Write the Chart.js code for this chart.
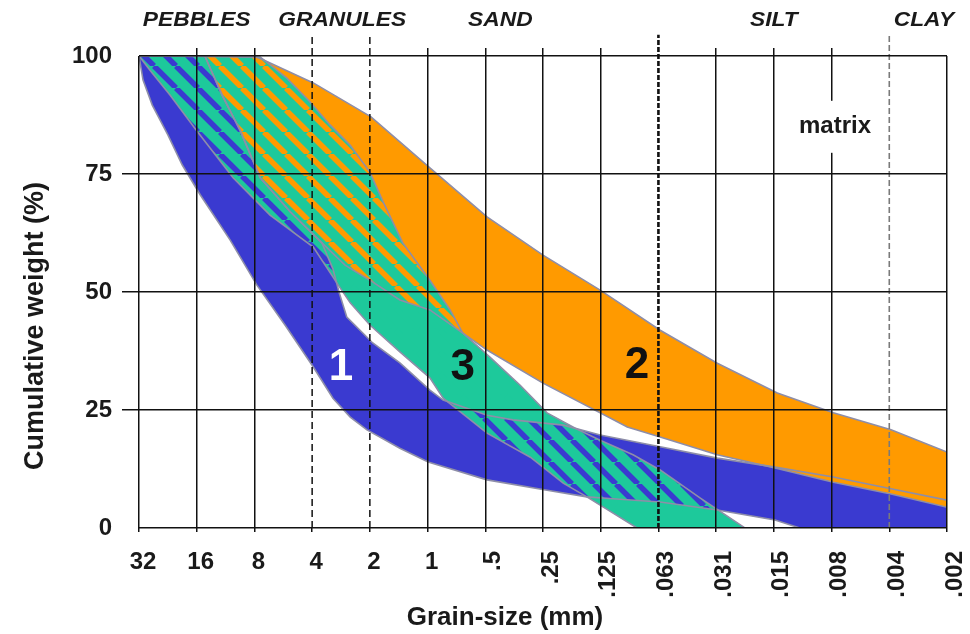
<!DOCTYPE html>
<html>
<head>
<meta charset="utf-8">
<title>Grain-size distribution envelopes</title>
<script src="https://cdn.jsdelivr.net/npm/chart.js@4.4.1/dist/chart.umd.min.js"></script>
<style>
  html, body { margin: 0; padding: 0; background: #ffffff; }
  canvas { display: block; }
</style>
</head>
<body>
<canvas id="chart" width="970" height="634"></canvas>
<script>
// Grain-size classes on the x axis, positioned in phi units (phi = -log2 of size in mm)
const grainSizeLabels = ['32', '16', '8', '4', '2', '1', '.5', '.25', '.125', '.063', '.031', '.015', '.008', '.004', '.002'];
const phiMin = -5;
const phiMax = 9;
const percentStep = 25;

// Size-class boundaries: 4 mm, 2 mm, 1/16 mm, 1/256 mm
const dividerPhi = [-2, -1, 4, 8];
const dividerTop = 104.5;

// Grading envelopes, [phi, cumulative weight %], coarse to fine
const band1Upper = [[-5, 100], [-3.86, 100], [-3.56, 91.7], [-3.25, 84.3], [-2.9, 74.2], [-2.38, 67], [-1.83, 60.4],
  [-1.64, 54.9], [-1.53, 49.8], [-1.4, 44.7], [-0.95, 39.2], [-0.48, 35], [0.04, 29.2], [0.27, 27.1], [1.03, 23.9],
  [1.48, 22.9], [2.35, 21.8], [2.99, 19.7], [4.03, 17.2], [5.02, 14.8], [6.02, 12.9], [7.03, 10.8], [8.03, 8.3], [9, 5.9]];
const band1Lower = [[-5, 100], [-4.93, 94.9], [-4.77, 89.6], [-4.5, 83.3], [-4.25, 76.9], [-3.94, 70.6], [-3.42, 61],
  [-2.96, 51.5], [-2.47, 43], [-1.98, 34.1], [-1.64, 27.5], [-1.34, 23.5], [-1.05, 20.8], [-0.48, 16.9], [0.01, 14],
  [1.03, 10.2], [2.02, 8.1], [2.76, 6.6], [3.33, 6.1], [4.03, 5.5], [5.02, 3.8], [6.02, 1.7], [6.45, 0], [9, 0]];

const band2Upper = [[-3.86, 100], [-2.97, 99.8], [-2.85, 99.2], [-1.98, 94.3], [-0.98, 87.1], [0.04, 76.3], [1.03, 65.9],
  [2.0, 57.8], [2.99, 50.4], [4.03, 41.9], [5.02, 34.9], [6.06, 28.6], [7.03, 24.4], [8.03, 20.8], [9, 16.1]];
const band2Lower = [[-3.86, 100], [-3.56, 91.7], [-3.25, 84.3], [-2.9, 74.2], [-2.38, 67], [-1.83, 60.4], [-1.43, 55.7],
  [-1.0, 52.5], [-0.48, 48.3], [0.04, 46.2], [0.61, 41.3], [1.03, 37.7], [2.0, 30.7], [2.99, 24.4], [3.46, 21.4],
  [4.03, 19.3], [5.02, 15.5], [6.02, 12.7], [7.03, 9.7], [8.03, 7.2], [9, 4.4]];

const band3Upper = [[-5, 100], [-2.9, 99.8], [-2.44, 95.3], [-2.04, 90.3], [-1.69, 85.4], [-1.34, 81.1], [-1.0, 75.4],
  [-0.77, 69.1], [-0.43, 60.4], [0.04, 52.5], [0.39, 46.2], [0.61, 41.3], [1.08, 36.2], [1.6, 30.3], [2.07, 24.4],
  [2.55, 21.2], [2.99, 18.6], [3.56, 15.5], [4.03, 12.3], [4.72, 6.4], [5.5, 0]];
const band3Lower = [[-5, 100], [-4.81, 97], [-4.46, 91.7], [-4.01, 84.3], [-3.37, 74.2], [-2.73, 66.3], [-1.98, 59.5],
  [-1.55, 51.5], [-1.34, 47.7], [-1.0, 43], [-0.48, 37.3], [0.04, 31.8], [0.27, 27.5], [1.03, 20.1], [1.78, 15],
  [2.35, 9.5], [2.76, 6.6], [3.63, 0]];

// Text placed on the plot
const zoneNames = ['PEBBLES', 'GRANULES', 'SAND', 'SILT', 'CLAY'];
const zoneCenters = [-4.0, -1.48, 1.26, 6.0, 8.6];
const bandNames = ['1', '2', '3'];
const bandLabelPhi = [-1.5, 3.63, 0.61];
const bandLabelPct = [34, 34.3, 34];
const matrixText = 'matrix';
const matrixPhi = 7.06;
const matrixPct = 85;
const xTitle = 'Grain-size (mm)';
const yTitle = 'Cumulative weight (%)';

const BLUE = '#3a3ad0';
const ORANGE = '#ff9a00';
const TEAL = '#1dc99b';
const OUTLINE = '#8e8ea8';
const INK = '#1a1a1a';
const FONT = "'Liberation Sans', Arial, sans-serif";

Chart.defaults.font.family = FONT;

// Closed outline of an envelope: upper edge forward, lower edge back
function envelope(upper, lower) {
  const pts = upper.concat(lower.slice().reverse());
  return pts.map(([x, y]) => ({ x, y }));
}

// Diagonal hatch: solid colour with transparent "\" stripes
function hatch(color, period, gap) {
  const c = document.createElement('canvas');
  c.width = period; c.height = period;
  const g = c.getContext('2d');
  g.fillStyle = color;
  g.fillRect(0, 0, period, period);
  g.globalCompositeOperation = 'destination-out';
  g.lineWidth = gap;
  g.beginPath();
  for (let k = -1; k <= 1; k++) {
    g.moveTo(k * period, 0);
    g.lineTo(k * period + period, period);
  }
  g.stroke();
  return g.createPattern(c, 'repeat');
}

const band1 = envelope(band1Upper, band1Lower);
const band2 = envelope(band2Upper, band2Lower);
const band3 = envelope(band3Upper, band3Lower);

function area(points, fillStyle, order) {
  return { data: points, fill: 'shape', backgroundColor: fillStyle, borderColor: 'rgba(0,0,0,0)',
    borderWidth: 0, pointRadius: 0, tension: 0, order };
}
function outline(points, order) {
  return { data: points, fill: false, borderColor: OUTLINE, borderWidth: 1.6, pointRadius: 0, tension: 0, order };
}

const dividerStyles = [
  { color: '#111111', width: 1.5, dash: [7, 4] },
  { color: '#111111', width: 1.5, dash: [7, 4] },
  { color: '#111111', width: 2.6, dash: [5, 2] },
  { color: '#7a7a7a', width: 1.6, dash: [6, 3] }
];
const dividers = dividerPhi.map((p, i) => ({
  data: [{ x: p, y: 0 }, { x: p, y: dividerTop }],
  fill: false, borderColor: dividerStyles[i].color, borderWidth: dividerStyles[i].width,
  borderDash: dividerStyles[i].dash, pointRadius: 0, clip: false, order: 0
}));

// Bands are layered so overlaps show as teal hatching over the other colour
const datasets = [
  area(band3, TEAL, 9),
  area(band1, BLUE, 8),
  area(band2, ORANGE, 7),
  area(band3, hatch(TEAL, 22, 5.5), 6),
  outline(band1, 5),
  outline(band2, 4),
  outline(band3, 3),
  ...dividers
];

const clear = 'rgba(0,0,0,0)';
const tickFont = { family: FONT, size: 24, weight: 'bold' };
const noPadding = (s) => { s.paddingLeft = 0; s.paddingRight = 0; };

const annotations = {
  id: 'annotations',
  afterDraw(chart) {
    const { ctx, chartArea } = chart;
    const x = chart.scales.x;
    const y = chart.scales.y;
    ctx.save();
    ctx.textAlign = 'center';
    ctx.textBaseline = 'middle';
    ctx.fillStyle = INK;

    // size-class names above the plot
    ctx.font = `italic bold 20px ${FONT}`;
    zoneNames.forEach((name, i) => {
      ctx.save();
      ctx.translate(x.getPixelForValue(zoneCenters[i]), chartArea.top - 36);
      ctx.scale(1.14, 1);
      ctx.fillText(name, 0, 0);
      ctx.restore();
    });

    // "matrix" with a white backdrop
    ctx.font = `bold 24px ${FONT}`;
    const mx = x.getPixelForValue(matrixPhi);
    const my = y.getPixelForValue(matrixPct);
    const mw = ctx.measureText(matrixText).width + 10;
    ctx.fillStyle = '#ffffff';
    ctx.fillRect(mx - mw / 2, my - 26, mw, 52);
    ctx.fillStyle = INK;
    ctx.fillText(matrixText, mx, my);

    // band numbers
    ctx.font = `bold 44px ${FONT}`;
    bandNames.forEach((name, i) => {
      ctx.fillStyle = name === '1' ? '#ffffff' : '#111111';
      ctx.fillText(name, x.getPixelForValue(bandLabelPhi[i]), y.getPixelForValue(bandLabelPct[i]));
    });

    // axis titles
    ctx.fillStyle = INK;
    ctx.font = `bold 26px ${FONT}`;
    ctx.fillText(xTitle, chart.width / 2 + 20, chart.height - 16);
    ctx.font = `bold 27px ${FONT}`;
    ctx.save();
    ctx.translate(36, (chartArea.top + chartArea.bottom) / 2 + 34);
    ctx.rotate(-Math.PI / 2);
    ctx.fillText(yTitle, 0, 0);
    ctx.restore();
    ctx.restore();
  }
};

new Chart(document.getElementById('chart'), {
  type: 'line',
  data: { datasets },
  options: {
    responsive: false,
    animation: false,
    devicePixelRatio: 1,
    layout: { padding: { left: 0, right: 23, top: 56, bottom: 106 } },
    plugins: { legend: { display: false }, tooltip: { enabled: false } },
    scales: {
      x: {
        type: 'linear', position: { y: 0 }, min: phiMin, max: phiMax,
        afterFit: noPadding,
        border: { display: false },
        grid: {
          z: 1, lineWidth: 1.5, tickLength: 4, tickColor: '#111111',
          color: (c) => dividerPhi.includes(c.tick.value) ? clear : '#111111'
        },
        ticks: {
          stepSize: 1, maxTicksLimit: 20, autoSkip: false, minRotation: 0, maxRotation: 0,
          padding: 16, labelOffset: 4, font: tickFont, color: INK,
          callback: (v, i) => (v <= 0 ? grainSizeLabels[i] : '')
        }
      },
      xFine: {
        type: 'linear', position: { y: 0 }, min: phiMin, max: phiMax,
        afterFit: noPadding,
        border: { display: false },
        grid: { display: false },
        ticks: {
          stepSize: 1, maxTicksLimit: 20, autoSkip: false, minRotation: 90, maxRotation: 90,
          padding: 15, labelOffset: 8, font: tickFont, color: INK,
          callback: (v, i) => (v > 0 ? grainSizeLabels[i] : '')
        }
      },
      xTop: {
        type: 'linear', position: 'top', min: phiMin, max: phiMax,
        afterFit: (s) => { s.height = 0; noPadding(s); },
        border: { display: false },
        grid: {
          drawOnChartArea: false, tickLength: 8, lineWidth: 1.5,
          tickColor: (c) => (c.tick.value === phiMin || c.tick.value === phiMax || dividerPhi.includes(c.tick.value)) ? clear : '#111111'
        },
        ticks: { display: false, stepSize: 1, maxTicksLimit: 20 }
      },
      y: {
        min: 0, max: 100,
        afterFit: (s) => { s.width = 139; },
        border: { display: false },
        grid: {
          z: 1, color: '#111111', lineWidth: 1.5, tickLength: 17,
          tickColor: (c) => (c.tick.value === 0 || c.tick.value === 100) ? clear : '#111111'
        },
        ticks: { stepSize: percentStep, padding: 10, font: tickFont, color: INK }
      }
    }
  },
  plugins: [annotations]
});
</script>
</body>
</html>
